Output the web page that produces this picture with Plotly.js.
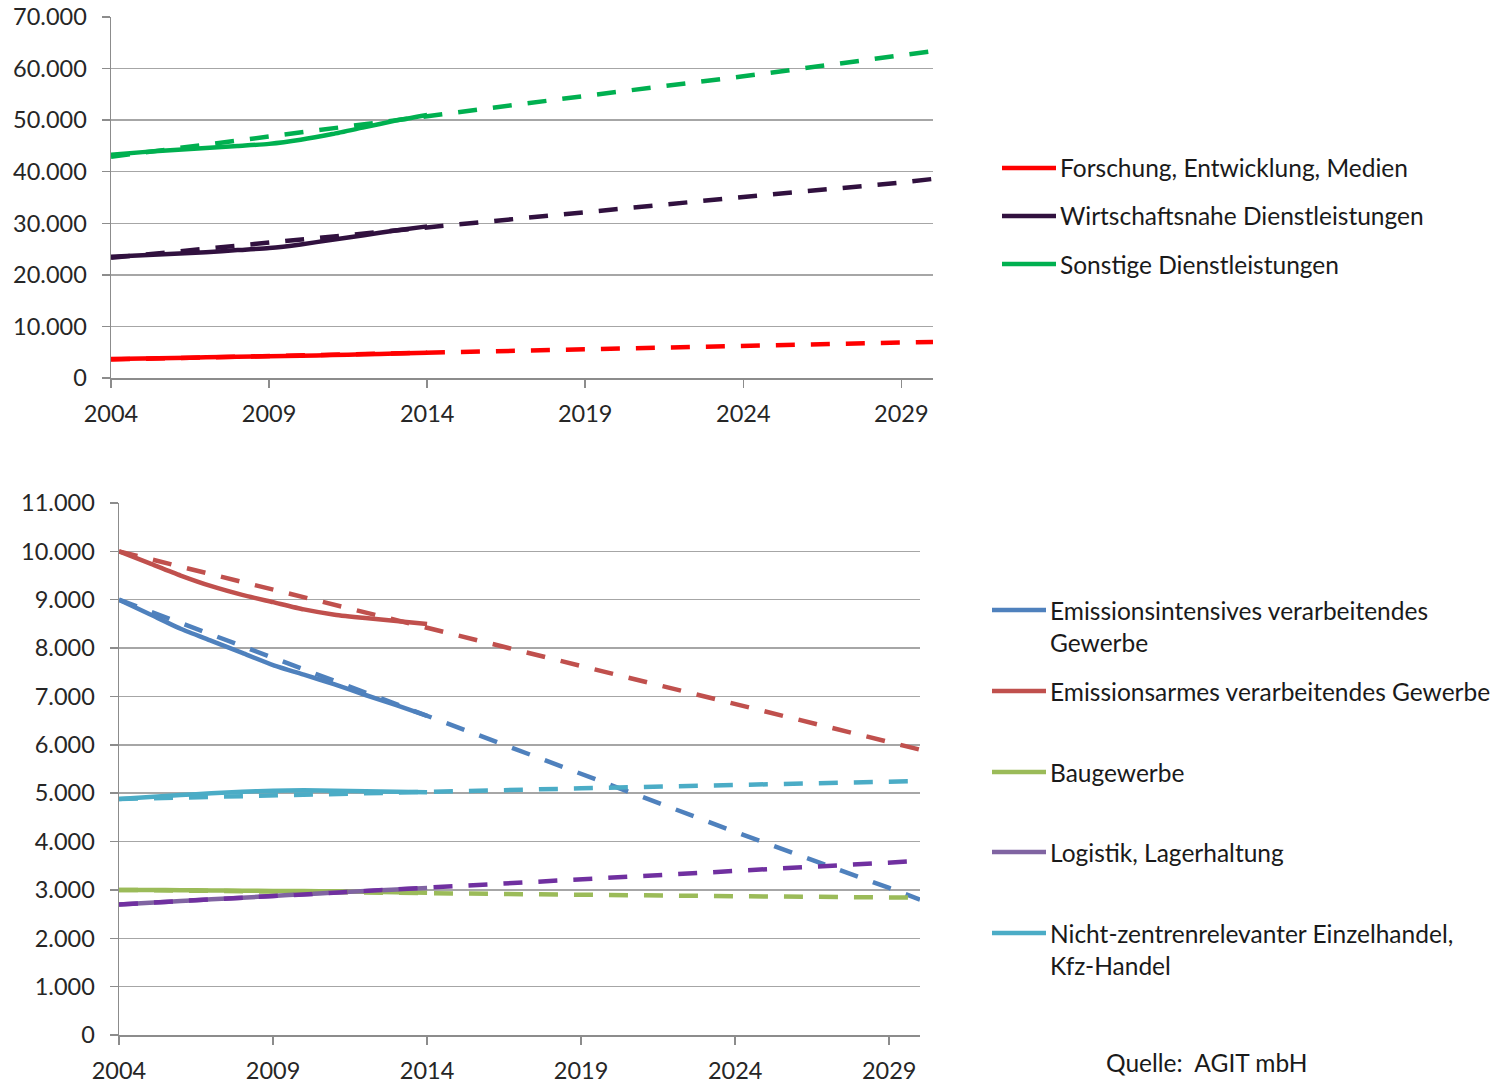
<!DOCTYPE html>
<html><head><meta charset="utf-8">
<script src="https://cdn.plot.ly/plotly-3.0.1.min.js"></script>
<style>html,body{margin:0;padding:0;background:#fff}#chart{width:1505px;height:1083px}</style>
</head><body><div id="chart"></div>
<script>
// ---- data ----
const actualYears = [2004,2005,2006,2007,2008,2009,2010,2011,2012,2013,2014];
const trendYears  = [2004,2009,2014,2019,2024,2029,2030];
const xTickVals   = [2004,2009,2014,2019,2024,2029];

// top chart
const topNames = ["Forschung, Entwicklung, Medien","Wirtschaftsnahe Dienstleistungen","Sonstige Dienstleistungen"];
const forschungActual = [3700,3800,3900,4000,4100,4200,4300,4450,4600,4750,4900];
const forschungTrend  = [3600,4250,4900,5600,6200,6850,7000];
const wirtschaftActual = [23500,23800,24100,24400,24800,25200,25900,26800,27700,28600,29400];
const wirtschaftTrend  = [23300,26300,29300,32200,35100,37900,38600];
const sonstigeActual = [43300,43800,44200,44600,45000,45400,46200,47300,48600,49900,51000];
const sonstigeTrend  = [42900,46900,50900,54700,58500,62600,63400];
const topTickVals = [0,10000,20000,30000,40000,50000,60000,70000];

// bottom chart
const bottomNames = ["Emissionsintensives verarbeitendes<br>Gewerbe","Emissionsarmes verarbeitendes Gewerbe","Baugewerbe","Logistik, Lagerhaltung","Nicht-zentrenrelevanter Einzelhandel,<br>Kfz-Handel"];
const intensivActual = [9000,8700,8400,8150,7900,7650,7450,7250,7030,6820,6600];
const intensivTrend  = [9000,7800,6600,5400,4200,3040,2800];
const armActual = [10000,9750,9500,9280,9100,8950,8800,8690,8620,8560,8500];
const armTrend  = [10000,9200,8420,7630,6840,6050,5900];
const bauActual = [3000,3000,2995,2990,2985,2980,2975,2970,2960,2950,2940];
const bauTrend  = [3000,2960,2930,2900,2870,2850,2840];
const logistikActual = [2700,2735,2770,2805,2840,2875,2910,2945,2980,3010,3040];
const logistikTrend  = [2700,2870,3040,3210,3390,3560,3600];
const handelActual = [4880,4920,4960,5000,5030,5050,5060,5050,5040,5030,5020];
const handelTrend  = [4880,4960,5030,5100,5170,5230,5250];
const bottomTickVals = [0,1000,2000,3000,4000,5000,6000,7000,8000,9000,10000,11000];

// ---- styles ----
const W = 1505, H = 1083;
const FONT = "Lato, 'Open Sans', sans-serif";
const topColors = ["#FF0000","#31113F","#00B050"];
const topTrendColors = ["#FF0000","#31113F","#00B050"];
const bottomColors = ["#4F81BD","#C0504D","#9BBB59","#8064A2","#4BACC6"];
const bottomTrendColors = ["#4F81BD","#C0504D","#9BBB59","#7030A0","#4BACC6"];
const LW = 4.5;
const DASH = "19px,16px";
const LEGEND_SIZE = 24.5;

const topActuals = [forschungActual, wirtschaftActual, sonstigeActual];
const topTrends = [forschungTrend, wirtschaftTrend, sonstigeTrend];
const bottomActuals = [intensivActual, armActual, bauActual, logistikActual, handelActual];
const bottomTrends = [intensivTrend, armTrend, bauTrend, logistikTrend, handelTrend];

const traces = [];
topActuals.forEach((a,i)=>traces.push({x:actualYears,y:a,type:'scatter',mode:'lines',name:topNames[i],
  line:{color:topColors[i],width:LW,shape:'spline',smoothing:0.6},xaxis:'x',yaxis:'y',showlegend:false}));
topTrends.forEach((a,i)=>traces.push({x:trendYears,y:a,type:'scatter',mode:'lines',name:topNames[i]+' (Trend)',
  line:{color:topTrendColors[i],width:LW,dash:DASH},xaxis:'x',yaxis:'y',showlegend:false}));
bottomActuals.forEach((a,i)=>traces.push({x:actualYears,y:a,type:'scatter',mode:'lines',name:bottomNames[i].replace('<br>',' '),
  line:{color:bottomColors[i],width:LW,shape:'spline',smoothing:0.6},xaxis:'x2',yaxis:'y2',showlegend:false}));
bottomTrends.forEach((a,i)=>traces.push({x:trendYears,y:a,type:'scatter',mode:'lines',name:bottomNames[i].replace('<br>',' ')+' (Trend)',
  line:{color:bottomTrendColors[i],width:LW,dash:DASH},xaxis:'x2',yaxis:'y2',showlegend:false}));

const px = v => v / W;
const py = v => 1 - v / H;

const axisCommon = {
  showline:true, linecolor:'#8C8C8C', linewidth:1.5, ticks:'outside', ticklen:8, tickcolor:'#8C8C8C', tickwidth:1.5,
  zeroline:false, tickfont:{family:FONT,size:23.5,color:'#262626'}, fixedrange:true
};

const shapes = [], annotations = [];
function legendEntry(x0, x1, xt, y, color, name){
  shapes.push({type:'line',xref:'paper',yref:'paper',x0:px(x0),x1:px(x1),y0:py(y),y1:py(y),line:{color:color,width:LW}});
  name.split('<br>').forEach((t,k)=>annotations.push({xref:'paper',yref:'paper',x:px(xt),y:py(y+k*32),xanchor:'left',yanchor:'middle',
    text:t,showarrow:false,font:{family:FONT,size:LEGEND_SIZE,color:'#1A1A1A'}}));
}
const topLegendY = [168,216,264];
topNames.forEach((n,i)=>legendEntry(1002,1056,1058,topLegendY[i],topColors[i],n));
const bottomLegendY = [610,691,772,852,933];
bottomNames.forEach((n,i)=>legendEntry(992,1046,1048,bottomLegendY[i],bottomColors[i],n));
annotations.push({xref:'paper',yref:'paper',x:px(1104),y:py(1062),xanchor:'left',yanchor:'middle',
  text:'Quelle: \u00a0AGIT mbH',showarrow:false,font:{family:FONT,size:LEGEND_SIZE,color:'#1A1A1A'}});

const layout = {
  width:W, height:H, margin:{l:0,r:0,t:0,b:0}, paper_bgcolor:'#fff', plot_bgcolor:'#fff',
  separators:',.', showlegend:false, font:{family:FONT},
  xaxis:Object.assign({},axisCommon,{domain:[px(111),px(933)],range:[2004,2030],tickvals:xTickVals,showgrid:false,anchor:'y',ticklabelstandoff:6}),
  yaxis:Object.assign({},axisCommon,{domain:[py(378),py(17)],range:[0,70000],tickvals:topTickVals,tickformat:',d',
    showgrid:true,gridcolor:'#A6A6A6',gridwidth:1.5,anchor:'x',ticklabelstandoff:10}),
  xaxis2:Object.assign({},axisCommon,{domain:[px(119),px(920)],range:[2004,2030],tickvals:xTickVals,showgrid:false,anchor:'y2',ticklabelstandoff:6}),
  yaxis2:Object.assign({},axisCommon,{domain:[py(1035),py(503)],range:[0,11000],tickvals:bottomTickVals,tickformat:',d',
    showgrid:true,gridcolor:'#A6A6A6',gridwidth:1.5,anchor:'x2',ticklabelstandoff:10}),
  shapes:shapes, annotations:annotations
};
Plotly.newPlot('chart', traces, layout, {displayModeBar:false, staticPlot:true});
</script></body></html>
